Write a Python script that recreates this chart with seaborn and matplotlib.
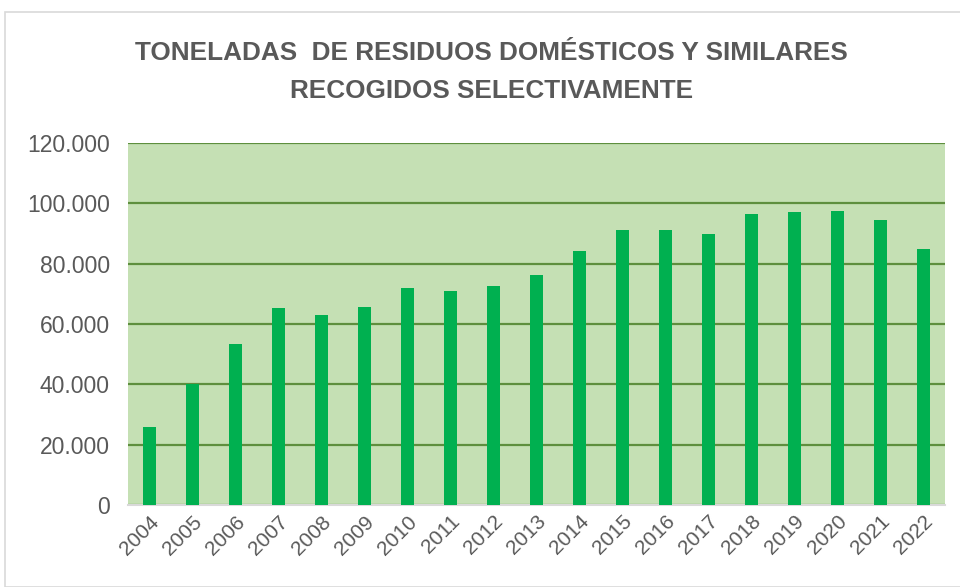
import seaborn as sns
import matplotlib.pyplot as plt
import matplotlib.ticker as mticker
from matplotlib.patches import Rectangle
import pandas as pd

years = ["2004", "2005", "2006", "2007", "2008", "2009", "2010", "2011", "2012", "2013",
         "2014", "2015", "2016", "2017", "2018", "2019", "2020", "2021", "2022"]
toneladas = [25700, 40100, 53400, 65300, 62900, 65800, 71800, 70900, 72600, 76400,
             84200, 91000, 91000, 89700, 96600, 97000, 97400, 94400, 85000]
yticks = [0, 20000, 40000, 60000, 80000, 100000, 120000]

df = pd.DataFrame({"year": years, "t": toneladas})

sns.set_style("white")
plt.rcParams["font.family"] = ["Liberation Sans", "DejaVu Sans"]

fig = plt.figure(figsize=(9.6, 5.87), dpi=100)
fig.patches.append(Rectangle((5 / 960, 0.0), 1.0, 1 - 12 / 587, transform=fig.transFigure,
                             facecolor="none", edgecolor="#D9D9D9", linewidth=1.2))
ax = fig.add_axes([128 / 960, 1 - 505 / 587, (945 - 128) / 960, (505 - 143) / 587])
ax.set_facecolor("#C5E0B4")

sns.barplot(data=df, x="year", y="t", color="#00B050", width=0.31, saturation=1,
            linewidth=0, ax=ax, zorder=3)

ax.set_ylim(0, 120000)
ax.set_yticks(yticks)
ax.yaxis.set_major_formatter(mticker.FuncFormatter(lambda v, p: f"{int(v):,}".replace(",", ".")))
ax.grid(axis="y", color="#5E8F3E", linewidth=1.6, zorder=1)
ax.set_axisbelow(True)
for s in ["top", "left", "right"]:
    ax.spines[s].set_visible(False)
ax.spines["bottom"].set_color("#D9D9D9")
ax.spines["bottom"].set_linewidth(1.5)

ax.tick_params(axis="y", labelsize=16.5, colors="#595959", length=0, pad=13)
ax.tick_params(axis="x", labelsize=15, colors="#595959", length=0, pad=5)
plt.setp(ax.get_xticklabels(), rotation=45, ha="right", rotation_mode="anchor")
ax.set_xlabel("")
ax.set_ylabel("")

fig.text(0.512, 1 - 53 / 587, "TONELADAS  DE RESIDUOS DOMÉSTICOS Y SIMILARES",
         ha="center", va="center", fontsize=18.8, fontweight="bold", color="#595959")
fig.text(0.512, 1 - 91 / 587, "RECOGIDOS SELECTIVAMENTE",
         ha="center", va="center", fontsize=18.8, fontweight="bold", color="#595959")

fig.savefig("out.png", dpi=100)
plt.close(fig)
